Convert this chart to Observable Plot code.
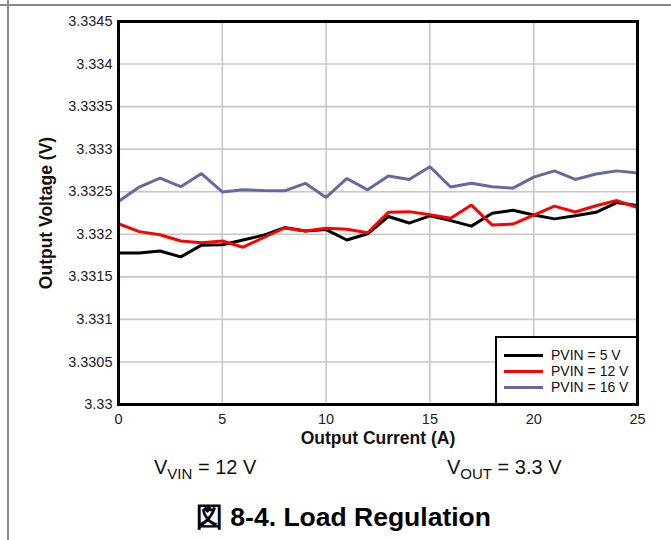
<!DOCTYPE html>
<html>
<head>
<meta charset="utf-8">
<script src="https://cdn.jsdelivr.net/npm/d3@7"></script>
<script src="https://cdn.jsdelivr.net/npm/@observablehq/plot@0.6"></script>
<style>
  html, body { margin: 0; padding: 0; background: #fff; }
  body { font-family: "Liberation Sans", Arial, sans-serif; }
  #wrap { position: relative; width: 671px; height: 540px; overflow: hidden; }
  .vline { position: absolute; left: 7px; top: 0; width: 2px; height: 540px; background: #8a8a8a; }
  .hline { position: absolute; left: 0; top: 4px; width: 671px; height: 2px; background: #8a8a8a; }
  #chart { position: absolute; left: 0; top: 0; }
  #legend { position: absolute; left: 495px; top: 336px; width: 143px; height: 69px; box-sizing: border-box;
            border: 2.5px solid #000; background: #fff; }
  .lrow { position: absolute; left: 0; height: 16px; width: 140px; }
  .lsw { position: absolute; left: 7px; top: 6.5px; width: 39px; height: 3px; }
  .ltx { position: absolute; left: 54px; top: 0; font-size: 14px; line-height: 16px; color: #111; white-space: nowrap; }
  .cond { position: absolute; top: 456px; font-size: 20px; color: #111; white-space: nowrap; }
  .cond sub { font-size: 15px; vertical-align: -5px; line-height: 0; }
  #title { position: absolute; left: 196px; top: 499px; font-size: 26.5px; font-weight: bold; color: #000; white-space: nowrap; }
</style>
</head>
<body>
<div id="wrap">
  <div class="vline"></div>
  <div class="hline"></div>
  <div id="chart"></div>
  <div id="legend"></div>
  <div class="cond" style="left:154px">V<sub>VIN</sub> = 12 V</div>
  <div class="cond" style="left:447px">V<sub>OUT</sub> = 3.3 V</div>
  <div id="title">図 8-4. Load Regulation</div>
</div>
<script>
// ---- data ----
const current = [0,1,2,3,4,5,6,7,8,9,10,11,12,13,14,15,16,17,18,19,20,21,22,23,24,25];
const v5 = [3.331779, 3.331779, 3.331803, 3.331734, 3.331872, 3.331876, 3.331933, 3.331990, 3.332079, 3.332039,
            3.332055, 3.331933, 3.332006, 3.332209, 3.332132, 3.332217, 3.332161, 3.332096, 3.332246, 3.332282,
            3.332226, 3.332181, 3.332217, 3.332258, 3.332372, 3.332339];
const v12 = [3.332124, 3.332031, 3.331994, 3.331921, 3.331901, 3.331921, 3.331848, 3.331962, 3.332075, 3.332039,
             3.332071, 3.332059, 3.332018, 3.332258, 3.332266, 3.332230, 3.332189, 3.332343, 3.332108, 3.332120,
             3.332226, 3.332331, 3.332262, 3.332335, 3.332396, 3.332315];
const v16 = [3.332384, 3.332555, 3.332660, 3.332559, 3.332713, 3.332498, 3.332522, 3.332514, 3.332510, 3.332599,
             3.332433, 3.332656, 3.332522, 3.332685, 3.332644, 3.332794, 3.332555, 3.332599, 3.332559, 3.332542,
             3.332672, 3.332745, 3.332644, 3.332709, 3.332745, 3.332721];
const seriesNames = ["PVIN = 5 V", "PVIN = 12 V", "PVIN = 16 V"];
const seriesColors = ["#000000", "#ff0000", "#6868a0"];
const xTicks = [0, 5, 10, 15, 20, 25];
const xGrid = [5, 10, 15, 20];
const yTicks = [3.33, 3.3305, 3.331, 3.3315, 3.332, 3.3325, 3.333, 3.3335, 3.334, 3.3345];
const xLabel = "Output Current (A)";
const yLabel = "Output Voltage (V)";

// build a long table
const seriesValues = [v5, v12, v16];
const drawOrder = [2, 0, 1];
const rows = [];
for (const s of drawOrder) {
  current.forEach((c, i) => rows.push({current: c, v: seriesValues[s][i], series: seriesNames[s]}));
}

const plot = Plot.plot({
  width: 671,
  height: 450,
  marginLeft: 118,
  marginRight: 34,
  marginTop: 21,
  marginBottom: 46,
  style: {fontFamily: "'Liberation Sans', Arial, sans-serif", fontSize: "14.5px", color: "#222", background: "transparent"},
  x: {domain: [0, 25]},
  y: {domain: [3.33, 3.3345]},
  color: {domain: seriesNames, range: seriesColors},
  marks: [
    Plot.gridX(xGrid, {stroke: "#c8c8c8", strokeOpacity: 1, strokeWidth: 1.6}),
    Plot.gridY(yTicks.slice(1, -1), {stroke: "#c8c8c8", strokeOpacity: 1, strokeWidth: 1.6}),
    Plot.line(rows, {x: "current", y: "v", z: "series", stroke: "series", strokeWidth: 3, strokeLinejoin: "miter"}),
    Plot.frame({stroke: "#000", strokeWidth: 3}),
    Plot.axisY(yTicks, {tickSize: 0, tickPadding: 6, label: null, fontSize: 14.5, tickFormat: d => String(+d.toFixed(4)), fill: "#222"}),
    Plot.axisX(xTicks, {tickSize: 0, tickPadding: 9, label: null, fontSize: 14.5, fill: "#222"}),
    Plot.text([xLabel], {frameAnchor: "bottom", lineAnchor: "middle", dy: 34, fontWeight: "bold", fontSize: 17.5, fill: "#111"}),
    Plot.text([yLabel], {frameAnchor: "left", textAnchor: "middle", dx: -72, rotate: -90, fontWeight: "bold", fontSize: 17.5, fill: "#111"})
  ]
});
document.getElementById("chart").appendChild(plot);

// legend built from series arrays
const legend = document.getElementById("legend");
seriesNames.forEach((name, i) => {
  const row = document.createElement("div");
  row.className = "lrow";
  row.style.top = (9 + i * 16) + "px";
  const sw = document.createElement("div");
  sw.className = "lsw";
  sw.style.background = seriesColors[i];
  const tx = document.createElement("div");
  tx.className = "ltx";
  tx.textContent = name;
  row.appendChild(sw);
  row.appendChild(tx);
  legend.appendChild(row);
});
</script>
</body>
</html>
